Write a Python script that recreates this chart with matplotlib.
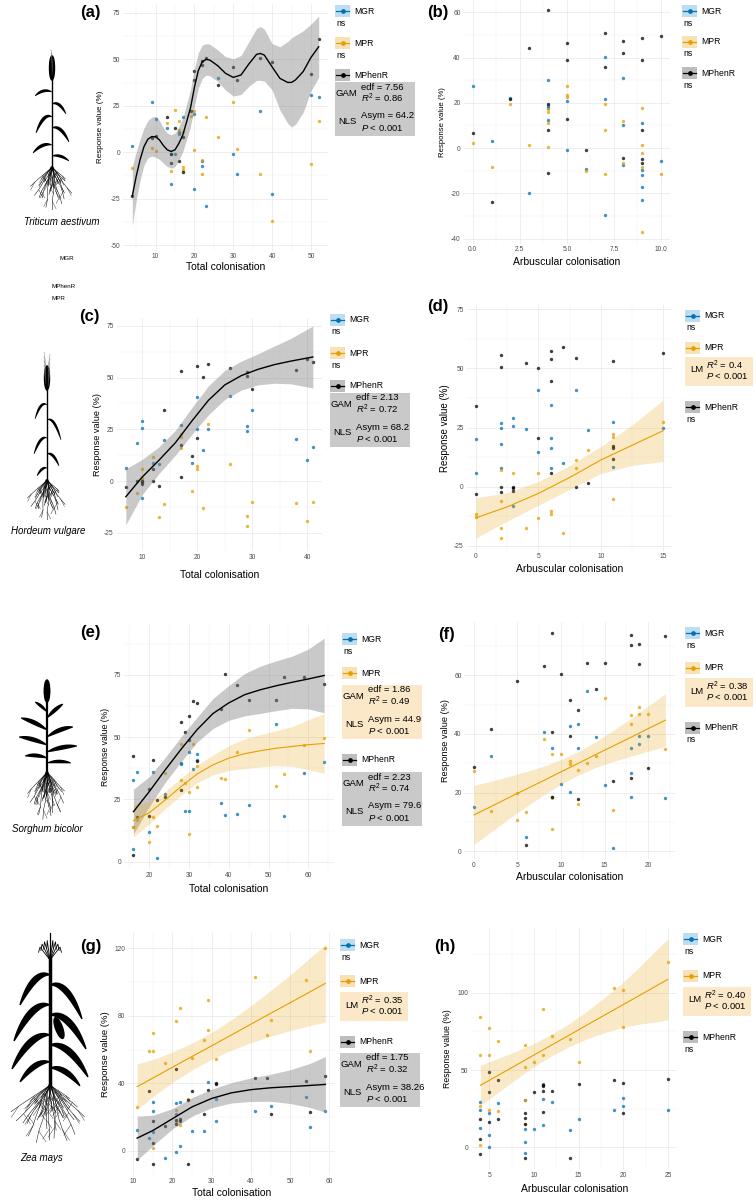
import numpy as np
import matplotlib
matplotlib.use("Agg")
import matplotlib.pyplot as plt
from matplotlib.patches import Rectangle, Ellipse
from matplotlib.ticker import MultipleLocator, FormatStrFormatter

# ---------------- data ----------------
# (a) Triticum aestivum, total colonisation
a_mgr = [(4, 3.5), (9, 27), (10, 18), (13, 13), (14, -17), (14, -1), (15, -1), (16, 11), (16, 10),
         (17, 19), (20, 20.5), (20, -20), (22, -5), (22, -7.5), (23, -29), (26, 40), (30, -1),
         (31, -12), (37, 22), (40, -22.5), (50, 31), (52, 30)]
a_mpr = [(4, -8.5), (9, 2.5), (10, 0.5), (13, 16), (14, -10), (15, 23), (16, 17), (16, 12), (17, 11),
         (17, -8), (17, -9.5), (19, 19.5), (20, 22), (20, 1), (22, -4), (22, -12), (23, 19), (26, 8),
         (30, 27), (31, 1.5), (37, -11.5), (40, -37), (50, -6.5), (52, 17)]
a_mph = [(4, -23.5), (9, 7.5), (10, 9), (13, 19), (14, -1), (14, -6), (15, 13), (16, -5), (17, 8),
         (17, -10.7), (19, 22), (20, 44), (20, 38.7), (22, 49), (22, 47), (23, 51), (26, 36.4),
         (30, 46), (31, 39), (37, 51), (40, 48.5), (50, 42), (52, 61)]
a_fit_x = [4, 5, 6, 7, 8, 9, 10, 11, 12, 13, 14, 15, 16, 17, 18, 19, 20, 21, 22, 23, 24, 26, 28,
           30, 32, 34, 36, 37, 38, 40, 42, 44, 45, 46, 48, 50, 52]
a_fit_y = [-23.5, -13, -4, 3, 7, 8.4, 8.3, 6.6, 3.6, 1.3, 0.4, 1.3, 4.8, 9.3, 16.5, 24, 35, 44,
           48.7, 50, 49.6, 46.6, 42.5, 40.3, 41.6, 47.5, 52.7, 53.2, 52.3, 46, 39.8, 37.6, 37.6,
           38.9, 43.4, 51, 56.8]
a_fit_se = [16, 13, 11, 10, 10, 10.5, 11, 10.5, 9.5, 9, 9, 9, 9, 9, 9.5, 10, 10, 9.5, 9, 8.5, 8.5,
            8.5, 9, 10, 10.5, 12, 14, 14.5, 14, 12.5, 17, 22, 24, 24, 22, 18, 16.5]

# (b) Triticum aestivum, arbuscular colonisation
b_mgr = [(0, 27.3), (1, 3.3), (2, 22), (3, -20), (4, 30), (4, 18.5), (4, 17.8), (4, 12.5), (5, 20.7),
         (5, -1), (6, -9), (7, 40.3), (7, 21.8), (7, -29.3), (8, 31), (8, 10), (8, -7.6), (9, 10.9),
         (9, -9.7), (9, -12), (9, -17), (9, -22.7), (10, -5.7)]
b_mpr = [(0, 2.2), (1, -8.5), (2, 19.4), (3, 1.2), (4, 17.3), (4, 15.8), (4, 11), (4, 0.6), (5, 27.3),
         (5, 23.3), (5, 22.4), (6, -9.9), (7, 19.3), (7, 8), (7, -11.3), (8, 12.2), (8, -6.6),
         (9, 17.5), (9, 1.5), (9, -2), (9, -8.5), (9, -37.2), (10, -11.6)]
b_mph = [(0, 6.9), (1, -23.7), (2, 21.5), (3, 44), (4, 61.2), (4, 19.4), (4, 8), (4, -11), (5, 46.3),
         (5, 38.7), (5, 12.8), (6, -1), (7, 51), (7, 36), (8, 47.3), (8, 42), (8, -4.5), (9, 48.5),
         (9, 39), (9, 8), (9, -5), (9, -6.5), (10, 49.3)]

# (c) Hordeum vulgare, total colonisation
c_mgr = [(7, 6.1), (9, 18.5), (10, 29), (10, 25.8), (10, -8), (12, 8.5), (13, 8.2), (14, 20), (17, 27.3),
         (19, 8.5), (20, 25), (20, 40.8), (21, 14.8), (22, 25), (26, 41.3), (29, 26.8), (29, 24.4),
         (30, 34.4), (38, 20.5), (40, 10), (41, 16.3)]
c_mpr = [(7, -12.4), (9, -6), (10, 6), (10, 1.3), (10, 0.5), (12, 11.5), (13, -17.3), (14, -11.1),
         (17, 22.6), (17, 21.5), (17, 15.8), (19, -4.8), (20, 7.4), (20, 6), (21, -12.9), (22, 27.6),
         (26, 8.2), (29, -17.1), (29, -21.8), (30, -10.3), (38, -10.6), (40, -19.2), (41, -10.3)]
c_mph = [(7, -3), (9, 0), (10, 0), (10, -0.6), (10, -1.6), (12, 0), (12, 6), (13, -2.3), (14, 34.2),
         (17, 53.2), (17, 17.3), (17, 1.8), (19, 12), (20, 55.8), (20, 21), (21, 50.5), (22, 56.8),
         (26, 54.5), (29, 52.6), (29, 51), (30, 44.7), (38, 53.9), (40, 59), (41, 57.6)]
c_fit_x = [7, 10, 13, 16, 19, 22, 25, 28, 31, 34, 37, 40, 41]
c_fit_y = [-7.6, 2, 10, 18.5, 29, 39, 46.5, 51, 54, 56.3, 58, 59.5, 60]
c_fit_se = [13.5, 8.5, 6.5, 6, 6.5, 7, 7, 7, 7.5, 9, 11, 14, 15]

# (d) Hordeum vulgare, arbuscular colonisation
d_mgr = [(0, 20.1), (0, 5.9), (2, 26.8), (2, 24.9), (2, 18.3), (2, 8), (3, 29), (3, 25.8), (3, -8.2),
         (4, 24.4), (5, 40.7), (5, 14.6), (6, 34.4), (6, 20.6), (6, 16.2), (6, 8), (7, 10), (8, 41),
         (9, 23.9), (11, 27.2), (11, 8.5), (15, 24.9)]
d_mpr = [(0, -11.3), (0, -12.7), (2, 7.3), (2, -6.1), (2, -17.6), (2, -21.8), (3, 5.9), (4, -17.3),
         (5, 5.9), (5, -13), (6, -10.4), (6, -11.3), (7, -19.4), (8, 11.3), (8, 8), (9, 15.5),
         (11, 22.5), (11, 21.1), (11, -5.2), (15, 27.5)]
d_mph = [(0, 34), (0, -3.1), (2, 55.8), (2, 50.7), (2, 0), (2, -2.1), (3, 0), (3, -0.7), (3, -1.7),
         (4, 52.5), (5, 50.3), (5, 20.8), (6, 57.6), (6, 53.8), (6, 44.6), (6, 5.9), (7, 58.9),
         (8, 54.5), (8, 0), (9, 1.8), (11, 53.1), (11, 17.2), (11, 16.6), (11, 11.8), (15, 56.6)]
d_fit_x = [0, 2.5, 5, 7.5, 10, 12.5, 15]
d_fit_y = [-13.1, -8.5, -2.8, 3.9, 11.3, 17.5, 23.7]
d_fit_se = [8.5, 6, 5, 5, 5.7, 8.5, 13]

# (e) Sorghum bicolor, total colonisation
e_mgr = [(16, 32.9), (16, 5.2), (17, 36), (20, 12.1), (21, 36), (22, 1.3), (24, 27.2), (28, 39.6),
         (28, 39.3), (29, 20.5), (30, 20.4), (30, 44), (31, 37.2), (32, 43.2), (32, 40.9), (38, 23.5),
         (39, 18.9), (42, 19.1), (45, 22.8), (52, 55.3), (54, 18.4), (59, 35.8), (64, 39.9)]
e_mpr = [(16, 14.1), (16, 13.8), (17, 16.9), (20, 7.8), (21, 18.1), (22, 14.4), (24, 35.8), (28, 47.4),
         (28, 32.9), (29, 31.5), (30, 28.1), (30, 11.1), (31, 47.4), (32, 38.3), (32, 30.2), (38, 33.8),
         (39, 33.4), (42, 44), (45, 53), (52, 30.6), (54, 35.3), (59, 47), (64, 49.7)]
e_mph = [(16, 42.3), (16, 2.7), (17, 18.1), (20, 29.1), (20, 18.4), (21, 40.9), (22, 24.6), (24, 25.8),
         (28, 56), (28, 28.9), (29, 52.3), (30, 58.7), (30, 48.7), (31, 64.4), (32, 63.8), (32, 40.3),
         (38, 61.5), (39, 75.2), (42, 70.9), (45, 64.8), (52, 64.8), (54, 74.2), (59, 74.2), (64, 71.3)]
e_fit_x = [16, 20, 24, 28, 32, 36, 40, 44, 48, 52, 56, 60, 64]
e_fit_mph = [20.1, 28.2, 36.9, 45.2, 53, 59.5, 63.8, 67.1, 69.1, 70.7, 72.1, 73.4, 74.8]
e_se_mph = [9, 6, 5, 5, 5, 6, 7, 8.5, 9.5, 10, 10.5, 12, 15]
e_fit_mpr = [16.5, 19.7, 24.8, 30.2, 35.2, 38.9, 41.6, 43.4, 44.6, 45.6, 46.3, 47, 47.5]
e_se_mpr = [6.5, 4.5, 3.5, 3.5, 3.5, 4, 5, 6, 6.5, 7, 8, 10, 12]

# (f) Sorghum bicolor, arbuscular colonisation
f_mgr = [(0, 15.2), (2, 32.5), (6, 4.8), (8, 40.5), (9, 35.3), (9, 18.4), (10, 23), (11, 42.7),
         (11, 20.1), (12, 43.5), (12, 35.3), (13, 54.8), (14, 39), (15, 22.5), (16, 1), (18, 26.8),
         (18, 18.6), (18, 35.3), (19, 39.3), (19, 36.6), (20, 39.2), (22, 18)]
f_mpr = [(0, 27.4), (2, 13.6), (5, 10.7), (5, 19.9), (6, 13.3), (8, 38.2), (9, 33), (9, 18), (9, 7.5),
         (10, 33.3), (11, 30.9), (11, 29.8), (12, 27.6), (12, 16.1), (13, 30.1), (14, 32.5), (15, 52.4),
         (16, 14), (18, 46.4), (18, 43.4), (19, 49.1), (19, 46.9), (20, 46.7), (22, 34.8)]
f_mph = [(0, 28.8), (2, 41.8), (5, 58.1), (6, 2.3), (8, 63.2), (9, 74.5), (9, 40.6), (9, 18.4),
         (10, 60.6), (11, 51.7), (11, 39.3), (12, 48.1), (12, 17.7), (13, 64.2), (14, 55.2), (15, 64.2),
         (16, 24.1), (18, 73.6), (18, 70.2), (18, 25.1), (19, 70.6), (19, 63.9), (20, 28.4), (22, 73.4)]
f_fit_x = [0, 2, 4, 6, 8, 10, 12, 14, 16, 18, 20, 22]
f_fit_y = [12.4, 15.3, 18.3, 21.2, 24.1, 27.1, 30.0, 33.0, 35.9, 38.8, 41.8, 44.7]
f_fit_se = [10.1, 8.6, 7.2, 6.0, 4.9, 4.2, 4.0, 4.4, 5.3, 6.4, 7.7, 9.0]

# (g) Zea mays, total colonisation
g_mgr = [(11, 12.3), (14, 7.3), (15, 29.1), (15, 23.7), (15, 10.9), (18, -4.2), (21, 28.1), (21, 21.7),
         (21, -0.6), (22, 29.1), (22, 2.8), (25, 11.9), (28, 11.9), (29, 40.9), (31, 30.4), (31, 17.6),
         (41, 23.5), (45, 26.3), (54, 31.6), (55, 13.8), (59, 23.7)]
g_mpr = [(11, 26.1), (14, 59.3), (15, 69.8), (15, 59.3), (15, 1.4), (18, 51.8), (21, 77.1), (21, 24.1),
         (21, 17), (22, 84.4), (22, 15), (24, 30.4), (25, 54.9), (28, 65.8), (29, 89.5), (29, 71.5),
         (31, 54.5), (41, 103), (44, 68.8), (45, 77.3), (54, 101.2), (55, 59.1), (59, 120)]
g_mph = [(11, -5.1), (14, 35.4), (15, 17.6), (15, 4.3), (15, -7.9), (18, 14.6), (21, 48.2), (21, 18.2),
         (21, 15.8), (22, 18.8), (22, 17.8), (24, 30), (24, -7.9), (25, 35.4), (28, 21.5), (29, 36.2),
         (31, 40.1), (31, 39.7), (41, 43.3), (44, 42.9), (45, 21.7), (54, 41.1), (55, 22.7), (59, 44.3)]
g_fit_x = [11, 15, 20, 25, 30, 35, 40, 45, 50, 55, 59]
g_fit_mpr = [38.0, 43.1, 49.5, 55.9, 62.2, 68.6, 75.0, 81.4, 87.7, 94.1, 99.2]
g_se_mpr = [13.5, 11, 9, 8, 8, 9, 11, 13.5, 16.5, 20, 23]
g_fit_mph = [7.5, 12, 19, 26, 31, 34.3, 36.2, 37.3, 38, 38.7, 39.3]
g_se_mph = [13, 9, 6, 5.5, 5.5, 6, 7, 8, 10, 13, 16.5]

# (h) Zea mays, arbuscular colonisation
h_mgr = [(4, 29.5), (4, 24.1), (4, 12.7), (5, 22.4), (5, 7.8), (5, 0.2), (6, 28.4), (9, 30.6), (9, 12.1),
         (9, 3.4), (9, -3.9), (10, 12.1), (11, 41.2), (11, 31), (11, 14.7), (12, 29.3), (14, 11.4),
         (15, 18.1), (19, 23.9), (20, 32.1), (20, 26.5), (25, 24.1)]
h_mpr = [(4, 84.5), (4, 59.7), (4, 26.7), (4, 1.5), (5, 77.4), (5, 59.5), (5, 24.1), (6, 69), (6, 23.7),
         (9, 66), (9, 51.9), (9, 30.4), (9, 15.1), (10, 55), (11, 89.4), (11, 59.5), (12, 72), (14, 70),
         (15, 55), (19, 103), (20, 101.5), (20, 77.6), (25, 120)]
h_mph = [(4, -4.5), (4, 5.2), (4, 18.1), (5, 48.7), (5, 35.8), (5, 16.4), (6, 43.3), (6, 18.1), (9, 22),
         (9, 19), (9, 15.1), (9, -6.9), (10, 35.8), (11, 40.5), (11, 39.9), (11, 36.4), (11, 23.1),
         (12, 36.6), (14, -6.9), (15, 40.7), (19, 43.5), (20, 41.6), (20, 22.2), (25, 44.4)]
h_fit_x = [4, 6, 8, 10, 12, 14, 16, 18, 20, 22, 24, 25]
h_fit_y = [40.1, 46.6, 53.1, 59.7, 66.2, 72.7, 79.3, 85.8, 92.3, 98.8, 105.4, 108.6]
h_fit_se = [13, 11, 9, 7.5, 7, 7.5, 9, 11.5, 14.5, 19, 24, 26]

species = ["Triticum aestivum", "Hordeum vulgare", "Sorghum bicolor", "Zea mays"]
group_names = ["MGR", "MPR", "MPhenR"]

# ---------------- style ----------------
W, H = 756, 1200
plt.rcParams["font.family"] = ["Liberation Sans", "DejaVu Sans"]
plt.rcParams["mathtext.fontset"] = "custom"
plt.rcParams["mathtext.rm"] = "Liberation Sans"
plt.rcParams["mathtext.it"] = "Liberation Sans:italic"
plt.rcParams["axes.unicode_minus"] = False

BLUE, ORANGE, BLACK = "#0072B2", "#E69F00", "#000000"
pt_cols = [BLUE, ORANGE, BLACK]
key_bg = ["#BFDDF0", "#F7E1B6", "#BDBDBD"]
box_bg = [None, "#FBE8C9", "#C9C9C9"]

fig = plt.figure(figsize=(W / 100, H / 100), dpi=100)


def panel(box, xlim, ylim, xstep, ystep, pts, fits, xlab, xlab_y, ylab_x, ylab_size, fmt="%d"):
    l, t, r, b = box
    ax = fig.add_axes([l / W, 1 - b / H, (r - l) / W, (b - t) / H])
    ax.set_facecolor("none")
    for p, c in zip(pts, pt_cols):
        xs, ys = zip(*p)
        ax.scatter(xs, ys, s=6, color=c, alpha=0.75, lw=0, zorder=2)
    for fx_, fy_, se, g in fits:
        fx_, fy_, se = np.array(fx_), np.array(fy_), np.array(se)
        if g == 1:
            ax.fill_between(fx_, fy_ - se, fy_ + se, color=ORANGE, alpha=0.22, lw=0, zorder=3)
            ax.plot(fx_, fy_, color=ORANGE, lw=0.8, zorder=4)
        else:
            ax.fill_between(fx_, fy_ - se, fy_ + se, color="#7f7f7f", alpha=0.42, lw=0, zorder=3)
            ax.plot(fx_, fy_, color=BLACK, lw=1.0, zorder=4)
    ax.set_xlim(*xlim)
    ax.set_ylim(*ylim)
    ax.xaxis.set_major_locator(MultipleLocator(xstep))
    ax.xaxis.set_minor_locator(MultipleLocator(xstep / 2))
    ax.yaxis.set_major_locator(MultipleLocator(ystep))
    ax.yaxis.set_minor_locator(MultipleLocator(ystep / 2))
    ax.xaxis.set_major_formatter(FormatStrFormatter(fmt))
    ax.grid(which="major", color="#EBEBEB", lw=0.6)
    ax.grid(which="minor", color="#F2F2F2", lw=0.35)
    ax.set_axisbelow(True)
    for s in ax.spines.values():
        s.set_visible(False)
    ax.tick_params(which="both", length=0, labelsize=4.8, labelcolor="#4D4D4D", pad=2)
    ov_text((l + r) / 2, xlab_y, xlab, 7.5, ha="center")
    ov_text(ylab_x, (t + b) / 2, "Response value (%)", ylab_size, ha="center", rotation=90)
    return ax


# overlay in pixel coordinates (y downwards) for legends, labels and plant sketches
ov = fig.add_axes([0, 0, 1, 1], zorder=10)
ov.set_xlim(0, W)
ov.set_ylim(H, 0)
ov.axis("off")
ov.set_facecolor("none")


def ov_text(x, y, s, size, ha="left", **kw):
    ov.text(x, y, s, size=size, ha=ha, va="center", **kw)


def legend(x, y, stats, step, gap):
    for i, st in enumerate(stats):
        ov.add_patch(Rectangle((x, y - 6), 15, 12, fc=key_bg[i], ec="none"))
        ov.plot([x + 1, x + 14], [y, y], color=pt_cols[i], lw=0.9)
        ov.plot([x + 7.5], [y], "o", ms=2.4, color=pt_cols[i])
        ov_text(x + 19, y, group_names[i], 6.2)
        if st is None:
            ov_text(x + 1, y + 12, "ns", 6.2)
            y += step
        elif st[0] == "LM":
            top = y + gap
            ov.add_patch(Rectangle((x, top), 68, 29, fc=box_bg[i], ec="none"))
            ov_text(x + 18, top + 13, "LM", 6.8, ha="right")
            ov_text(x + 21, top + 8, "$R^2$ = " + st[1], 6.8)
            ov_text(x + 21, top + 19, "$P$ < 0.001", 6.8)
            y = top + 29 + 21
        else:
            top = y + gap
            ov.add_patch(Rectangle((x, top), 80, 54, fc=box_bg[i], ec="none"))
            ov_text(x + 22, top + 11.5, "GAM", 6.8, ha="right")
            ov_text(x + 26, top + 5, "edf = " + st[1], 6.8)
            ov_text(x + 26, top + 16.5, "$R^2$ = " + st[2], 6.8)
            ov_text(x + 22, top + 39.5, "NLS", 6.8, ha="right")
            ov_text(x + 26, top + 34, "Asym = " + st[3], 6.8)
            ov_text(x + 26, top + 46, "$P$ < 0.001", 6.8)
            y = top + 54 + 21


# ---------------- plant sketches ----------------
def leaf(x0, y0, side, L, up, drop, wmax):
    t = np.linspace(0, 1, 30)
    x = x0 + side * L * t
    y = y0 - up * t + (up + drop) * t ** 2
    dx, dy = np.gradient(x), np.gradient(y)
    n = np.hypot(dx, dy)
    nx, ny = -dy / n, dx / n
    w = wmax * np.sin(np.pi * np.clip(t * 0.95 + 0.02, 0, 1)) ** 0.7
    ov.fill(np.concatenate([x + nx * w, (x - nx * w)[::-1]]),
            np.concatenate([y + ny * w, (y - ny * w)[::-1]]), color="black", lw=0)


def roots(cx, y0, y1, half, n):
    depth = y1 - y0
    for i in range(n):
        a = np.radians(-78 + 156 * i / (n - 1))
        f = 0.72 + 0.28 * np.cos(i * 2.3)
        s = np.linspace(0, 1, 6)
        wig = 1.2 * np.sin(s * 7 + i)
        xs = cx + half * np.sin(a) * f * s + wig * np.cos(a)
        ys = y0 + depth * (0.3 + 0.7 * np.cos(a)) * f * s
        ov.plot(xs, ys, color="black", lw=0.35)
        for k in (2, 4):
            d = 1 if i % 2 else -1
            ov.plot([xs[k], xs[k] + d * 0.18 * half * f], [ys[k], ys[k] + 0.18 * depth * f],
                    color="black", lw=0.25)


# wheat
roots(52, 167, 210, 22, 22)
ov.plot([52, 52], [80, 167], color="black", lw=1.0)
ov.add_patch(Ellipse((52, 68), 5, 24, color="black"))
for k in range(6):
    ov.plot([52, 51 + k * 0.4], [60 + k * 3, 50 + k * 3], color="#555555", lw=0.3)
for yy, sd, L, up, dr, w in [(92, -1, 17, 8, 4, 1.5), (104, 1, 14, 7, 10, 1.5), (117, -1, 16, 10, 16, 1.7),
                             (128, 1, 17, 7, 14, 1.7), (145, -1, 19, 6, 8, 1.7), (156, 1, 17, 4, 5, 1.5)]:
    leaf(52, yy, sd, L, up, dr, w)

# barley
roots(47, 480, 520, 20, 22)
ov.plot([47, 47], [390, 480], color="black", lw=1.0)
ov.add_patch(Ellipse((47, 378), 5, 24, color="black"))
for k in range(10):
    ov.plot([47 + (k % 2 - 0.5) * 2, 47 + (k % 2 - 0.5) * 6], [366 + k * 2.2, 352 + k * 2.2],
            color="#777777", lw=0.3)
for yy, sd, L, up, dr, w in [(405, -1, 12, 10, 14, 1.3), (420, 1, 14, 8, 20, 1.3), (438, -1, 13, 6, 16, 1.4),
                             (454, 1, 12, 5, 12, 1.4), (468, -1, 10, 3, 8, 1.3)]:
    leaf(47, yy, sd, L, up, dr, w)

# sorghum
roots(47, 772, 820, 20, 26)
ov.plot([47, 47], [700, 772], color="black", lw=1.6)
ov.add_patch(Ellipse((47, 691), 5.5, 22, color="black"))
for yy, sd, L, up, dr, w in [(712, -1, 12, 14, -10, 1.6), (718, 1, 16, 18, -14, 2.0),
                             (730, -1, 26, 18, -12, 2.3), (737, 1, 26, 18, -10, 2.3),
                             (745, -1, 28, 14, -8, 2.3), (752, 1, 30, 12, -6, 2.3),
                             (758, -1, 22, 8, -2, 2.0), (763, 1, 24, 6, 0, 1.8)]:
    leaf(47, yy, sd, L, up, dr, w)

# maize
roots(50, 1085, 1145, 40, 30)
ov.plot([50, 50], [958, 1085], color="black", lw=2.5)
for k in range(9):
    ang = np.radians(-50 + 100 * k / 8)
    ov.plot([50, 50 + 13 * np.sin(ang), 50 + 15 * np.sin(ang)],
            [960, 960 - 20 * np.cos(ang), 960 - 12 * np.cos(ang)], color="black", lw=0.6)
ov.plot([50, 50], [958, 933], color="black", lw=0.9)
ov.add_patch(Ellipse((59, 1028), 7, 22, angle=-20, color="black"))
for yy, sd, L, up, dr, w in [(975, -1, 30, 10, 30, 3.3), (985, 1, 32, 10, 34, 3.3), (1005, -1, 36, 8, 36, 3.6),
                             (1015, 1, 36, 8, 34, 3.6), (1035, -1, 38, 6, 34, 3.6), (1045, 1, 38, 6, 32, 3.6),
                             (1062, -1, 30, 4, 20, 3), (1068, 1, 30, 4, 18, 3)]:
    leaf(50, yy, sd, L, up, dr, w)

for name, (sx, sy) in zip(species, [(62, 222), (48, 531), (47, 829), (42, 1158)]):
    ov_text(sx, sy, name, 7, ha="center", style="italic")

ov_text(59, 259, "MGR", 4.5)
ov_text(52, 287, "MPhenR", 4.5)
ov_text(52, 299, "MPR", 4.5)

# ---------------- panels ----------------
panel((123, 3.7, 328, 250.6), (1.6, 54.4), (-53, 80), 10, 25, [a_mgr, a_mpr, a_mph],
      [(a_fit_x, a_fit_y, a_fit_se, 2)], "Total colonisation", 267, 100, 5.8)
panel((463.3, 0, 670.4, 243.5), (-0.5, 10.5), (-42.1, 65.4), 2.5, 20, [b_mgr, b_mpr, b_mph],
      [], "Arbuscular colonisation", 262, 443, 5.6, fmt="%.1f")
panel((116.5, 317.7, 322.2, 551.3), (5.3, 42.7), (-34, 79), 10, 25, [c_mgr, c_mpr, c_mph],
      [(c_fit_x, c_fit_y, c_fit_se, 2)], "Total colonisation", 575, 97, 6.6)
panel((466.6, 304.6, 672.4, 550.7), (-0.75, 15.75), (-27, 77), 5, 25, [d_mgr, d_mpr, d_mph],
      [(d_fit_x, d_fit_y, d_fit_se, 1)], "Arbuscular colonisation", 569, 445, 7)
panel((123.9, 625.2, 333.7, 869.2), (13.6, 66.4), (-3, 95), 10, 25, [e_mgr, e_mpr, e_mph],
      [(e_fit_x, e_fit_mph, e_se_mph, 2), (e_fit_x, e_fit_mpr, e_se_mpr, 1)],
      "Total colonisation", 889, 106, 6.2)
panel((464.4, 621.9, 675, 859.2), (-1.1, 23.1), (-2.7, 78.2), 5, 20, [f_mgr, f_mpr, f_mph],
      [(f_fit_x, f_fit_y, f_fit_se, 1)], "Arbuscular colonisation", 877, 446, 6.6)
panel((127.8, 933.1, 334.8, 1175.2), (8.6, 61.4), (-14.5, 129), 10, 40, [g_mgr, g_mpr, g_mph],
      [(g_fit_x, g_fit_mph, g_se_mph, 2), (g_fit_x, g_fit_mpr, g_se_mpr, 1)],
      "Total colonisation", 1193, 106, 6.8)
panel((471, 927.7, 677.3, 1169), (2.95, 26.05), (-14, 142), 5, 50, [h_mgr, h_mpr, h_mph],
      [(h_fit_x, h_fit_y, h_fit_se, 1)], "Arbuscular colonisation", 1189, 448, 6.3)

for tag, (tx, ty) in zip("abcdefgh", [(80, 13), (427, 13), (79, 316), (427, 307),
                                       (80, 633), (438, 634), (80, 947), (434, 946)]):
    ov_text(tx, ty, "(%s)" % tag, 12, weight="bold")

legend(335, 11, [None, None, ("GAM", "7.56", "0.86", "64.2")], 32, 7)
legend(682, 11, [None, None, None], 31, 7)
legend(330, 320, [None, None, ("GAM", "2.13", "0.72", "68.2")], 33, 7)
legend(685, 316, [None, ("LM", "0.4"), None], 32, 9)
legend(342, 639, [None, ("GAM", "1.86", "0.49", "44.9"), ("GAM", "2.23", "0.74", "79.6")], 34, 12)
legend(685, 633, [None, ("LM", "0.38"), None], 35, 10)
legend(340, 945, [None, ("LM", "0.35"), ("GAM", "1.75", "0.32", "38.26")], 36, 11)
legend(683, 939, [None, ("LM", "0.40"), None], 37, 11)

fig.savefig("out.png", dpi=100)
